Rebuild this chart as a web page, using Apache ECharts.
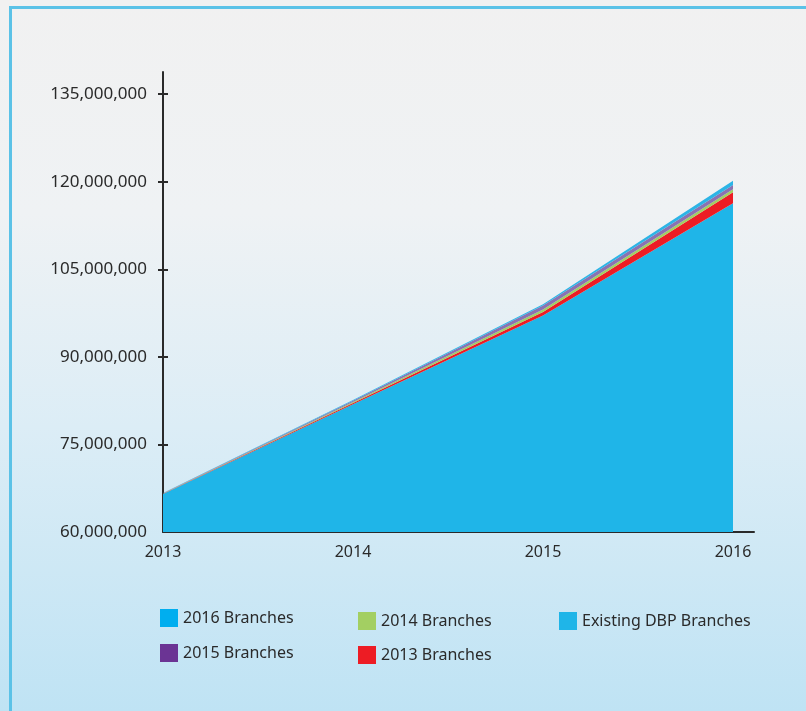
<!DOCTYPE html>
<html>
<head>
<meta charset="utf-8">
<script src="https://cdn.jsdelivr.net/npm/echarts@6/dist/echarts.min.js"></script>
<style>
  html, body { margin: 0; padding: 0; }
  body {
    width: 806px; height: 711px; overflow: hidden; position: relative;
    background: linear-gradient(to bottom, #f1f1f1 0%, #eff2f4 30%, #dcedf6 60%, #bfe3f4 100%);
  }
  #frame {
    position: absolute; left: 9px; top: 6px; width: 820px; height: 740px;
    border-left: 3px solid #5bc2e7; border-top: 3px solid #5bc2e7;
  }
  #main { position: absolute; left: 0; top: 0; width: 806px; height: 711px; }
</style>
</head>
<body>
<div id="frame"></div>
<div id="main"></div>
<script>
  // years on the x axis
  var years = ['2013', '2014', '2015', '2016'];
  var yTicks = [60000000, 75000000, 90000000, 105000000, 120000000, 135000000];

  // stacked layers, bottom to top
  var existingDBP = [66500000, 81900000, 97100000, 116300000];
  var branches2013 = [50000, 200000, 600000, 1900000];
  var branches2014 = [30000, 150000, 400000, 500000];
  var branches2015 = [50000, 250000, 700000, 750000];
  var branches2016 = [50000, 100000, 200000, 700000];

  var myChart = echarts.init(document.getElementById('main'));

  function layer(name, vals, legendColor, fillColor) {
    return {
      name: name,
      type: 'line',
      stack: 'total',
      symbol: 'none',
      lineStyle: { width: 0 },
      itemStyle: { color: legendColor },
      areaStyle: { color: fillColor, opacity: 1 },
      data: vals
    };
  }

  var font = 'Noto Sans';
  var ink = '#2a2a2a';
  function legendAt(name, left, top) {
    return {
      data: [name],
      left: left,
      top: top,
      icon: 'rect',
      itemWidth: 18,
      itemHeight: 18,
      itemGap: 10,
      selectedMode: false,
      textStyle: { fontFamily: font, fontSize: 16, color: ink }
    };
  }

  myChart.setOption({
    animation: false,
    grid: [
      { left: 163, right: 73, top: 72, bottom: 179 },
      // only carries the x axis line, which runs past 2016
      { left: 163, right: 52, top: 72, bottom: 179 }
    ],
    legend: [
      legendAt('2016 Branches', 155, 604),
      legendAt('2015 Branches', 155, 639),
      legendAt('2014 Branches', 353, 607),
      legendAt('2013 Branches', 353, 641),
      legendAt('Existing DBP Branches', 554, 607)
    ],
    xAxis: [
      {
        type: 'category',
        gridIndex: 0,
        data: years,
        boundaryGap: false,
        axisLine: { show: false },
        axisTick: { show: false },
        axisLabel: { margin: 12, fontFamily: font, fontSize: 16, color: ink }
      },
      {
        type: 'value',
        gridIndex: 1,
        min: 0,
        max: 1,
        splitLine: { show: false },
        axisTick: { show: false },
        axisLabel: { show: false },
        axisLine: { show: true, lineStyle: { color: ink, width: 2 } }
      }
    ],
    yAxis: [
      {
        type: 'value',
        gridIndex: 0,
        min: 60000000,
        max: 138800000,
        splitLine: { show: false },
        axisLine: { show: true, lineStyle: { color: ink, width: 2 } },
        axisTick: { show: true, customValues: yTicks.slice(1), length: 5, lineStyle: { color: ink, width: 2 } },
        axisLabel: {
          customValues: yTicks,
          margin: 16,
          fontFamily: font,
          fontSize: 17,
          color: ink,
          formatter: function (v) { return echarts.format.addCommas(v); }
        }
      },
      {
        type: 'value',
        gridIndex: 0,
        position: 'left',
        min: 60000000,
        max: 138800000,
        splitLine: { show: false },
        axisLine: { show: false },
        axisLabel: { show: false },
        axisTick: { show: true, inside: true, customValues: yTicks.slice(1), length: 5, lineStyle: { color: ink, width: 2 } }
      },
      {
        type: 'value',
        gridIndex: 1,
        show: false
      }
    ],
    series: [
      layer('Existing DBP Branches', existingDBP, '#1fb5e8', '#1fb5e8'),
      layer('2013 Branches', branches2013, '#ed1c24', '#ed1c24'),
      layer('2014 Branches', branches2014, '#a3cf62', '#a3cf62'),
      layer('2015 Branches', branches2015, '#6b3494', '#8a72b2'),
      layer('2016 Branches', branches2016, '#00aeef', '#2cb4e6')
    ]
  });
</script>
</body>
</html>
